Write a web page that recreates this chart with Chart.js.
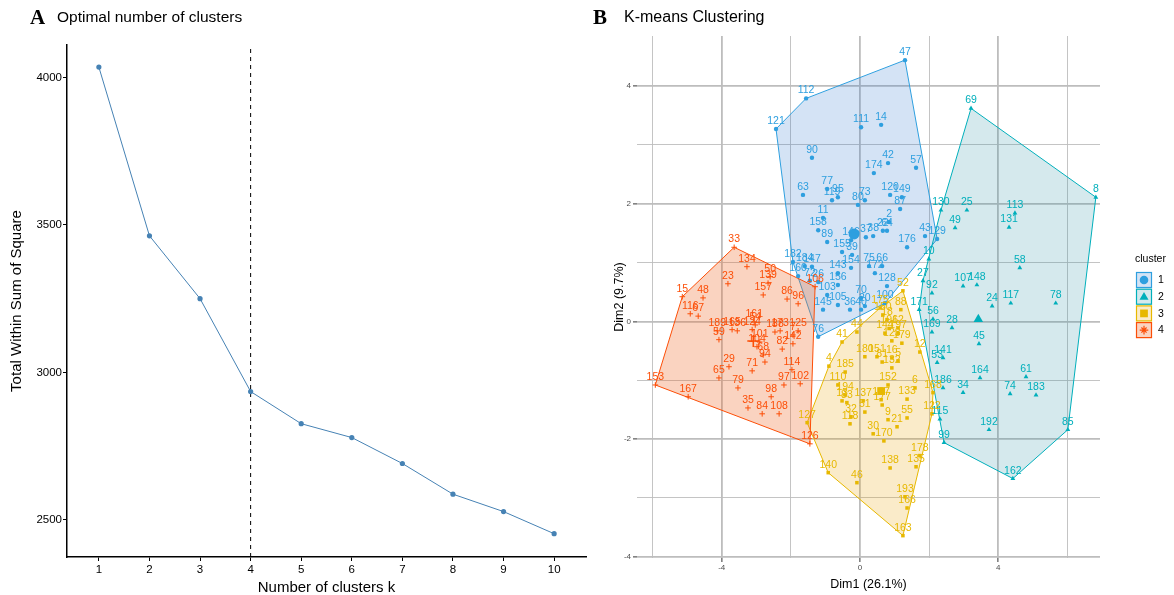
<!DOCTYPE html>
<html>
<head>
<meta charset="utf-8">
<script src="https://cdn.jsdelivr.net/npm/chart.js@4.4.1/dist/chart.umd.min.js"></script>
<style>
  body { margin: 0; background: #fff; }
  #wrap { position: relative; width: 1174px; height: 595px; }
  #cA { position: absolute; left: 0; top: 0; }
  #cB { position: absolute; left: 590px; top: 0; }
</style>
</head>
<body>
<div id="wrap">
  <canvas id="cA" width="590" height="595"></canvas>
  <canvas id="cB" width="584" height="595"></canvas>
</div>
<script>
// ---- panel A: elbow plot ----
const kValues = [1, 2, 3, 4, 5, 6, 7, 8, 9, 10];
const wss = [4035, 3463, 3250, 2935, 2826, 2779, 2691, 2587, 2528, 2453];
const optimalK = 4;
const wssTicks = [2500, 3000, 3500, 4000];

// ---- panel B: k-means clusters, [name, Dim1, Dim2] ----
const clusterNames = ['1', '2', '3', '4'];
const clusterColors = ['#2E9FDF', '#00AFBB', '#E7B800', '#FC4E07'];
const dim1Ticks = [-4, 0, 4];
const dim2Ticks = [-4, -2, 0, 2, 4];

const cluster1 = [
  ['121', -2.43, 3.27], ['112', -1.56, 3.79], ['47', 1.30, 4.44], ['111', 0.03, 3.30],
  ['14', 0.61, 3.34], ['90', -1.39, 2.78], ['42', 0.81, 2.69], ['57', 1.62, 2.61],
  ['174', 0.40, 2.52], ['63', -1.65, 2.15], ['77', -0.95, 2.25], ['119', -0.81, 2.06],
  ['95', -0.64, 2.11], ['80', -0.06, 1.98], ['73', 0.14, 2.06], ['120', 0.87, 2.15],
  ['149', 1.21, 2.11], ['87', 1.16, 1.91], ['2', 0.84, 1.69], ['11', -1.07, 1.76],
  ['158', -1.21, 1.55], ['89', -0.95, 1.35], ['146', -0.26, 1.38], ['37', 0.17, 1.43],
  ['38', 0.38, 1.45], ['22', 0.66, 1.54], ['64', 0.78, 1.54], ['155', -0.52, 1.18],
  ['39', -0.23, 1.13], ['154', -0.26, 0.91], ['75', 0.26, 0.94], ['66', 0.64, 0.94],
  ['172', 0.43, 0.82], ['128', 0.78, 0.60], ['176', 1.36, 1.26], ['43', 1.88, 1.45],
  ['129', 2.23, 1.40], ['182', -1.94, 1.01], ['184', -1.60, 0.94], ['147', -1.39, 0.93],
  ['160', -1.79, 0.77], ['72', -1.45, 0.69], ['26', -1.21, 0.67], ['143', -0.64, 0.82],
  ['156', -0.64, 0.62], ['103', -0.95, 0.45], ['105', -0.64, 0.28], ['145', -1.07, 0.20],
  ['76', -1.21, -0.26], ['70', 0.03, 0.40], ['20', 0.14, 0.26], ['36', -0.29, 0.20],
  ['40', 0.03, 0.20], ['100', 0.72, 0.31]
];
const cluster2 = [
  ['69', 3.21, 3.62], ['8', 6.82, 2.11], ['25', 3.09, 1.89], ['113', 4.48, 1.84],
  ['130', 2.34, 1.89], ['49', 2.75, 1.59], ['131', 4.31, 1.60], ['10', 1.99, 1.06],
  ['27', 1.82, 0.69], ['92', 2.08, 0.48], ['58', 4.62, 0.91], ['107', 2.98, 0.60],
  ['148', 3.38, 0.62], ['24', 3.82, 0.26], ['117', 4.36, 0.31], ['78', 5.66, 0.31],
  ['171', 1.71, 0.20], ['56', 2.11, 0.04], ['169', 2.08, -0.18], ['28', 2.66, -0.11],
  ['45', 3.44, -0.38], ['141', 2.40, -0.62], ['53', 2.23, -0.70], ['186', 2.40, -1.13],
  ['164', 3.47, -0.96], ['61', 4.80, -0.94], ['34', 2.98, -1.21], ['74', 4.34, -1.23],
  ['183', 5.09, -1.25], ['192', 3.73, -1.84], ['85', 6.01, -1.84], ['162', 4.42, -2.67],
  ['99', 2.43, -2.06], ['115', 2.31, -1.66]
];
const cluster3 = [
  ['52', 1.24, 0.52], ['88', 1.18, 0.20], ['175', 0.58, 0.23], ['150', 0.66, 0.11],
  ['18', 0.78, 0.03], ['44', -0.09, -0.18], ['144', 0.72, -0.20], ['191', 0.84, -0.12],
  ['62', 1.10, -0.11], ['197', 1.10, -0.20], ['41', -0.52, -0.35], ['12', 1.73, -0.52],
  ['123', 0.92, -0.33], ['179', 1.21, -0.37], ['185', -0.43, -0.86], ['4', -0.90, -0.76],
  ['110', -0.64, -1.08], ['194', -0.43, -1.25], ['81', 0.64, -0.69], ['132', 0.92, -0.79],
  ['152', 0.81, -1.08], ['6', 1.59, -1.13], ['168', 2.11, -1.21], ['180', 0.14, -0.60],
  ['151', 0.49, -0.60], ['16', 0.92, -0.62], ['5', 1.10, -0.67], ['13', -0.52, -1.35],
  ['83', -0.38, -1.38], ['137', 0.09, -1.35], ['32', -0.26, -1.62], ['51', 0.14, -1.54],
  ['118', -0.29, -1.74], ['187', 0.61, -1.33], ['177', 0.64, -1.42], ['133', 1.36, -1.32],
  ['9', 0.81, -1.67], ['21', 1.07, -1.79], ['55', 1.36, -1.64], ['122', 2.08, -1.57],
  ['30', 0.38, -1.91], ['170', 0.69, -2.03], ['178', 1.73, -2.28], ['135', 1.62, -2.47],
  ['138', 0.87, -2.49], ['140', -0.92, -2.57], ['46', -0.09, -2.74], ['193', 1.30, -2.98],
  ['166', 1.36, -3.17], ['163', 1.24, -3.64], ['127', -1.53, -1.72]
];
const cluster4 = [
  ['33', -3.64, 1.26], ['134', -3.27, 0.93], ['23', -3.82, 0.64], ['50', -2.60, 0.76],
  ['139', -2.66, 0.65], ['157', -2.80, 0.45], ['86', -2.11, 0.38], ['96', -1.79, 0.30],
  ['106', -1.30, 0.59], ['15', -5.14, 0.42], ['48', -4.54, 0.40], ['116', -4.91, 0.13],
  ['67', -4.68, 0.09], ['189', -4.13, -0.16], ['59', -4.08, -0.31], ['165', -3.70, -0.14],
  ['136', -3.55, -0.16], ['124', -3.12, -0.14], ['54', -3.03, -0.06], ['161', -3.06, -0.01],
  ['188', -2.46, -0.18], ['173', -2.31, -0.16], ['125', -1.79, -0.16], ['7', -1.94, -0.23],
  ['104', -2.98, -0.43], ['101', -2.90, -0.35], ['68', -2.80, -0.57], ['94', -2.75, -0.69],
  ['82', -2.25, -0.47], ['142', -1.94, -0.38], ['29', -3.79, -0.77], ['71', -3.12, -0.84],
  ['65', -4.08, -0.96], ['114', -1.97, -0.82], ['97', -2.20, -1.08], ['79', -3.53, -1.13],
  ['153', -5.92, -1.08], ['167', -4.97, -1.28], ['98', -2.57, -1.28], ['35', -3.24, -1.47],
  ['84', -2.83, -1.57], ['108', -2.34, -1.57], ['102', -1.73, -1.06], ['126', -1.45, -2.08]
];

const FONT = '"Liberation Sans", Arial, Helvetica, sans-serif';
const SERIF = '"Liberation Serif", "Times New Roman", serif';
Chart.defaults.font.family = FONT;

const clusters = [cluster1, cluster2, cluster3, cluster4];
const pointShapes = ['circle', 'triangle', 'rect', 'cross'];
const pointSizes = [2.2, 2.8, 2.5, 2.8];
const clusterFills = ['rgba(40,115,205,0.2)', 'rgba(45,145,165,0.2)', 'rgba(230,165,10,0.22)', 'rgba(240,110,45,0.3)'];

// convex hull (monotone chain)
function convexHull(pts) {
  const p = pts.map(d => [d[1], d[2]]).sort((a, b) => a[0] - b[0] || a[1] - b[1]);
  const cross = (o, a, b) => (a[0] - o[0]) * (b[1] - o[1]) - (a[1] - o[1]) * (b[0] - o[0]);
  const lower = [], upper = [];
  for (const q of p) {
    while (lower.length >= 2 && cross(lower[lower.length - 2], lower[lower.length - 1], q) <= 0) lower.pop();
    lower.push(q);
  }
  for (let i = p.length - 1; i >= 0; i--) {
    const q = p[i];
    while (upper.length >= 2 && cross(upper[upper.length - 2], upper[upper.length - 1], q) <= 0) upper.pop();
    upper.push(q);
  }
  lower.pop(); upper.pop();
  return lower.concat(upper);
}

function drawShape(ctx, shape, x, y, r, color) {
  ctx.fillStyle = color;
  ctx.strokeStyle = color;
  ctx.beginPath();
  if (shape === 'circle') {
    ctx.arc(x, y, r, 0, Math.PI * 2); ctx.fill();
  } else if (shape === 'triangle') {
    ctx.moveTo(x, y - r * 1.1); ctx.lineTo(x + r * 1.05, y + r * 0.7); ctx.lineTo(x - r * 1.05, y + r * 0.7);
    ctx.closePath(); ctx.fill();
  } else if (shape === 'rect') {
    ctx.fillRect(x - r * 0.9, y - r * 0.9, r * 1.8, r * 1.8);
  } else {
    ctx.lineWidth = 1.2;
    ctx.moveTo(x - r, y); ctx.lineTo(x + r, y);
    ctx.moveTo(x, y - r); ctx.lineTo(x, y + r);
    ctx.moveTo(x - r * 0.6, y - r * 0.6); ctx.lineTo(x + r * 0.6, y + r * 0.6);
    ctx.moveTo(x + r * 0.6, y - r * 0.6); ctx.lineTo(x - r * 0.6, y + r * 0.6);
    ctx.stroke();
  }
}

// ---------- Panel A ----------
const panelAText = {
  id: 'panelAText',
  afterDraw(chart) {
    const ctx = chart.ctx, a = chart.chartArea;
    ctx.save();
    ctx.fillStyle = '#000';
    ctx.textBaseline = 'middle';
    ctx.textAlign = 'left';
    ctx.font = 'bold 21px ' + SERIF;
    ctx.fillText('A', 30, 19);
    ctx.font = '15.5px ' + FONT;
    ctx.fillText('Optimal number of clusters', 57, 18);
    ctx.font = '15px ' + FONT;
    ctx.textAlign = 'center';
    ctx.fillText('Number of clusters k', (a.left + a.right) / 2, 588);
    ctx.translate(17, (a.top + a.bottom) / 2);
    ctx.rotate(-Math.PI / 2);
    ctx.fillText('Total Within Sum of Square', 0, 0);
    ctx.restore();
  }
};

const yMinA = 2374, yMaxA = 4110;
new Chart(document.getElementById('cA'), {
  type: 'line',
  data: {
    datasets: [
      {
        data: kValues.map((k, i) => ({ x: k, y: wss[i] })),
        borderColor: '#4682B4',
        backgroundColor: '#4682B4',
        borderWidth: 1,
        pointRadius: 2.6,
        pointBorderWidth: 0,
        tension: 0
      },
      {
        data: [{ x: optimalK, y: yMinA }, { x: optimalK, y: yMaxA }],
        borderColor: '#000',
        borderWidth: 1,
        borderDash: [4, 4],
        pointRadius: 0
      }
    ]
  },
  options: {
    responsive: false,
    animation: false,
    layout: { padding: { top: 45, right: 4, left: 0, bottom: 0 } },
    plugins: { legend: { display: false }, tooltip: { enabled: false } },
    scales: {
      x: {
        type: 'linear', min: 0.37, max: 10.63,
        afterBuildTicks: s => { s.ticks = kValues.map(v => ({ value: v })); },
        afterFit: s => { s.height = 38; },
        grid: { drawOnChartArea: false, tickLength: 4, tickColor: '#000', tickWidth: 1 },
        border: { color: '#000', width: 1.5 },
        ticks: { color: '#000', font: { size: 11.5 }, padding: 2, maxRotation: 0, callback: v => String(v) }
      },
      y: {
        type: 'linear', min: yMinA, max: yMaxA,
        afterBuildTicks: s => { s.ticks = wssTicks.map(v => ({ value: v })); },
        afterFit: s => { s.width = 67; },
        grid: { drawOnChartArea: false, tickLength: 4, tickColor: '#000', tickWidth: 1 },
        border: { color: '#000', width: 1.5 },
        ticks: { color: '#000', font: { size: 11.5 }, padding: 1, callback: v => String(v) }
      }
    }
  },
  plugins: [panelAText]
});

// ---------- Panel B ----------
const hullPlugin = {
  id: 'hulls',
  beforeDatasetsDraw(chart) {
    const ctx = chart.ctx, sx = chart.scales.x, sy = chart.scales.y;
    ctx.save();
    clusters.forEach((pts, i) => {
      const h = convexHull(pts);
      ctx.beginPath();
      h.forEach(([x, y], j) => {
        const px = sx.getPixelForValue(x), py = sy.getPixelForValue(y);
        if (j === 0) ctx.moveTo(px, py); else ctx.lineTo(px, py);
      });
      ctx.closePath();
      ctx.fillStyle = clusterFills[i];
      ctx.fill();
      ctx.strokeStyle = clusterColors[i];
      ctx.lineWidth = 1;
      ctx.stroke();
    });
    ctx.restore();
  }
};

const labelPlugin = {
  id: 'pointLabels',
  afterDatasetsDraw(chart) {
    const ctx = chart.ctx;
    ctx.save();
    ctx.font = '10.5px ' + FONT;
    ctx.textAlign = 'center';
    ctx.textBaseline = 'alphabetic';
    chart.data.datasets.forEach((ds, i) => {
      if (!ds.names) return;
      ctx.fillStyle = ds.borderColor;
      chart.getDatasetMeta(i).data.forEach((el, j) => {
        ctx.fillText(ds.names[j], el.x, el.y - 5);
      });
    });
    ctx.restore();
  }
};

const panelBText = {
  id: 'panelBText',
  afterDraw(chart) {
    const ctx = chart.ctx, a = chart.chartArea;
    ctx.save();
    ctx.fillStyle = '#000';
    ctx.textBaseline = 'middle';
    ctx.textAlign = 'left';
    ctx.font = 'bold 21px ' + SERIF;
    ctx.fillText('B', 3, 19);
    ctx.font = '16px ' + FONT;
    ctx.fillText('K-means Clustering', 34, 18);
    ctx.font = '12.5px ' + FONT;
    ctx.textAlign = 'center';
    ctx.fillText('Dim1 (26.1%)', (a.left + a.right) / 2, 585);
    ctx.save();
    ctx.translate(30, (a.top + a.bottom) / 2);
    ctx.rotate(-Math.PI / 2);
    ctx.fillText('Dim2 (9.7%)', 0, 0);
    ctx.restore();

    // legend
    const lx = 546, ly = 272, box = 16, step = 16.7;
    ctx.textAlign = 'left';
    ctx.font = '10.5px ' + FONT;
    ctx.fillText('cluster', 545, 259);
    clusterNames.forEach((name, i) => {
      const y = ly + i * step;
      ctx.fillStyle = clusterFills[i];
      ctx.fillRect(lx, y, box, box);
      ctx.strokeStyle = clusterColors[i];
      ctx.lineWidth = 1.2;
      ctx.strokeRect(lx + 0.5, y + 0.5, box - 1, box - 1);
      drawShape(ctx, pointShapes[i], lx + box / 2, y + box / 2, 4.3, clusterColors[i]);
      ctx.fillStyle = '#000';
      ctx.font = '10.5px ' + FONT;
      ctx.fillText(name, lx + box + 6, y + box / 2 + 0.5);
    });
    ctx.restore();
  }
};

const pointSets = clusters.map((pts, i) => ({
  data: pts.map(d => ({ x: d[1], y: d[2] })),
  names: pts.map(d => d[0]),
  pointStyle: pointShapes[i],
  pointRadius: pointSizes[i],
  borderColor: clusterColors[i],
  backgroundColor: clusterColors[i],
  borderWidth: i === 3 ? 1 : 0,
  order: 2
}));
const centerSets = clusters.map((pts, i) => ({
  data: [{
    x: pts.reduce((s, d) => s + d[1], 0) / pts.length,
    y: pts.reduce((s, d) => s + d[2], 0) / pts.length
  }],
  pointStyle: pointShapes[i],
  pointRadius: i === 3 ? 6 : 5.5,
  borderColor: clusterColors[i],
  backgroundColor: clusterColors[i],
  borderWidth: i === 3 ? 1.6 : 0,
  order: 1
}));

const isMajorX = v => v % 4 === 0;
const isMajorY = v => v % 2 === 0;

new Chart(document.getElementById('cB'), {
  type: 'scatter',
  data: { datasets: pointSets.concat(centerSets) },
  options: {
    responsive: false,
    animation: false,
    layout: { padding: { top: 36, right: 74, left: 0, bottom: 0 } },
    plugins: { legend: { display: false }, tooltip: { enabled: false } },
    scales: {
      x: {
        type: 'linear', min: -6.45, max: 6.94,
        afterBuildTicks: s => { s.ticks = [-6, -4, -2, 0, 2, 4, 6].map(v => ({ value: v })); },
        afterFit: s => { s.height = 37; },
        grid: {
          color: '#bdbdbd',
          lineWidth: c => (c.tick && isMajorX(c.tick.value)) ? 1.8 : 0.9,
          tickColor: c => (c.tick && isMajorX(c.tick.value)) ? '#333' : 'rgba(0,0,0,0)',
          tickLength: 4, tickWidth: 1
        },
        border: { display: false },
        ticks: {
          color: '#4d4d4d', font: { size: 8 }, padding: 1, maxRotation: 0,
          callback: v => dim1Ticks.includes(v) ? String(v) : ''
        }
      },
      y: {
        type: 'linear', min: -4.02, max: 4.85,
        afterBuildTicks: s => { s.ticks = [-4, -3, -2, -1, 0, 1, 2, 3, 4].map(v => ({ value: v })); },
        afterFit: s => { s.width = 47; },
        grid: {
          color: '#bdbdbd',
          lineWidth: c => (c.tick && isMajorY(c.tick.value)) ? 1.8 : 0.9,
          tickColor: c => (c.tick && isMajorY(c.tick.value)) ? '#333' : 'rgba(0,0,0,0)',
          tickLength: 4, tickWidth: 1
        },
        border: { display: false },
        ticks: {
          color: '#4d4d4d', font: { size: 8 }, padding: 2,
          callback: v => dim2Ticks.includes(v) ? String(v) : ''
        }
      }
    }
  },
  plugins: [hullPlugin, labelPlugin, panelBText]
});
</script>
</body>
</html>
